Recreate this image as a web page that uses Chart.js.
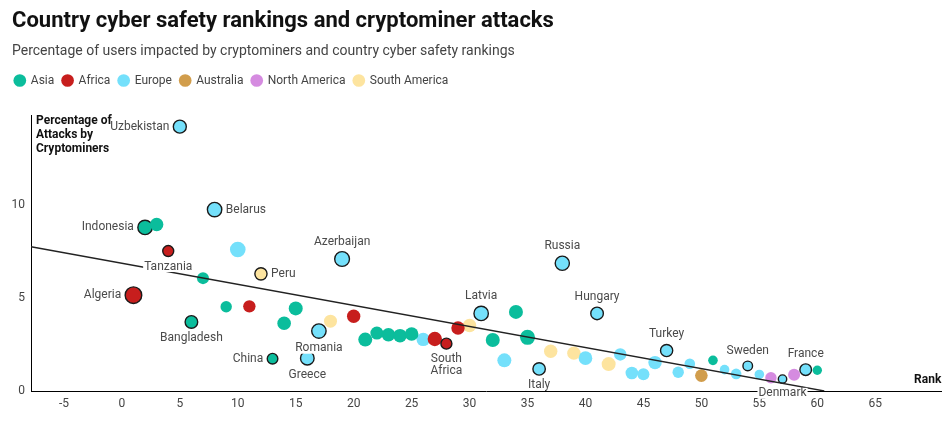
<!DOCTYPE html>
<html><head><meta charset="utf-8">
<script src="https://cdn.jsdelivr.net/npm/chart.js@4"></script>
<style>html,body{margin:0;padding:0;background:#fff}#wrap{width:951px;height:422px;position:relative}</style>
</head><body><div id="wrap"><canvas id="c" width="951" height="422"></canvas></div>
<script>
// ---- data ----
const ranks = [1,2,3,4,5,6,7,8,9,10,11,12,13,14,15,16,17,18,19,20,21,22,23,24,25,26,27,28,29,30,31,32,33,34,35,36,37,38,39,40,41,42,43,44,45,46,47,48,49,50,51,52,53,54,55,56,57,58,59,60];
const percentAttacked = [5.16,8.81,8.97,7.54,14.24,3.72,6.08,9.77,4.54,7.62,4.56,6.31,1.74,3.65,4.45,1.77,3.23,3.76,7.11,4.03,2.77,3.12,3.03,2.98,3.07,2.78,2.80,2.55,3.39,3.53,4.18,2.75,1.65,4.26,2.89,1.19,2.14,6.88,2.04,1.77,4.18,1.45,1.97,0.97,0.90,1.53,2.18,1.01,1.47,0.83,1.65,1.15,0.92,1.35,0.89,0.71,0.64,0.87,1.15,1.12];
const continentOf = ['Africa','Asia','Asia','Africa','Europe','Asia','Asia','Europe','Asia','Europe','Africa','South America','Asia','Asia','Asia','Europe','Europe','South America','Europe','Africa','Asia','Asia','Asia','Asia','Asia','Europe','Africa','Africa','Africa','South America','Europe','Asia','Europe','Asia','Asia','Europe','South America','Europe','South America','Europe','Europe','South America','Europe','Europe','Europe','Europe','Europe','Europe','Europe','Australia','Asia','Europe','Europe','Europe','Europe','North America','Europe','North America','Europe','Asia'];
const countryLabels = ['Algeria','Indonesia','','Tanzania','Uzbekistan','Bangladesh','','Belarus','','','','Peru','China','','','Greece','Romania','','Azerbaijan','','','','','','','','','South Africa','','','Latvia','','','','','Italy','','Russia','','','Hungary','','','','','','Turkey','','','','','','','Sweden','','','Denmark','','France',''];
const bubbleSize = [8.3,7.2,6.7,5.5,6.5,6.3,6,7.2,5.7,7.8,6.2,6.1,5.3,6.8,7,6.8,7.2,6.5,7.4,6.7,7,6.5,6.8,6.8,6.8,6.7,7.2,5.5,6.7,6.7,7.2,7,7,7,7.5,6.2,6.7,7.1,6.7,6.8,6.3,7,6.2,6.3,6,6.7,6.1,5.7,5.3,6.3,4.8,4.8,5.3,4.8,4.8,5.7,4.2,6,5.8,4.7];
const continents = ['Asia','Africa','Europe','Australia','North America','South America'];
const xTicks = [-5,0,5,10,15,20,25,30,35,40,45,50,55,60,65];
const yTicks = [0,5,10];
const trendRank = [-7.84, 60.6];
const trendPercent = [7.77, 0];

// ---- styles ----
const continentColors = {'Asia':'#0bbd9c','Africa':'#c71e1d','Europe':'#74e0fb','Australia':'#d19d4c','North America':'#d58be0','South America':'#fde49f'};
const labelPlacement = {Uzbekistan:'left',Belarus:'right',Indonesia:'left',Algeria:'left',Tanzania:'bottom',Peru:'right',Bangladesh:'bottom',China:'left',Greece:'bottom',Romania:'bottom',Azerbaijan:'top',Russia:'top',Latvia:'top',Hungary:'top','South Africa':'bottom',Italy:'bottom',Turkey:'top',Sweden:'top',Denmark:'bottom',France:'top'};
const labelLines = {'South Africa':['South','Africa']};

Chart.defaults.font.family = 'Roboto';

const datasets = continents.map(c => ({
  type: 'bubble',
  label: c,
  order: 1,
  backgroundColor: continentColors[c],
  borderColor: '#1a1a1a',
  borderWidth: ctx => (ctx.raw && ctx.raw.name) ? 1.4 : 0,
  data: ranks.map((r, i) => ({x: r, y: percentAttacked[i], r: bubbleSize[i], name: countryLabels[i], cont: continentOf[i]}))
          .filter(p => p.cont === c)
}));
datasets.push({
  type: 'line',
  label: 'trend',
  order: 0,
  data: trendRank.map((r, i) => ({x: r, y: trendPercent[i]})),
  borderColor: '#222',
  borderWidth: 1.3,
  pointRadius: 0,
  fill: false
});

const pointLabels = {
  id: 'pointLabels',
  afterDatasetsDraw(chart) {
    const ctx = chart.ctx, xs = chart.scales.x, ys = chart.scales.y;
    ctx.save();
    ctx.font = '12px Roboto';
    ctx.textBaseline = 'middle';
    ranks.forEach((rk, i) => {
      const name = countryLabels[i];
      if (!name) return;
      const px = xs.getPixelForValue(rk), py = ys.getPixelForValue(percentAttacked[i]);
      const r = bubbleSize[i];
      const pos = labelPlacement[name];
      const lines = labelLines[name] || [name];
      const lh = 12.3;
      let tx, ty, align;
      if (pos === 'left') { tx = px - r - 4; ty = py; align = 'right'; }
      else if (pos === 'right') { tx = px + r + 4; ty = py; align = 'left'; }
      else if (pos === 'top') { tx = px; ty = py - r - 10; align = 'center'; }
      else { tx = px; ty = py + r + 10; align = 'center'; }
      ctx.textAlign = align;
      lines.forEach((ln, k) => {
        const w = ctx.measureText(ln).width;
        const y = ty + k * lh;
        const left = align === 'right' ? tx - w : align === 'left' ? tx : tx - w / 2;
        ctx.fillStyle = '#fff';
        ctx.fillRect(left - 1, y - 5.5, w + 2, 11);
        ctx.fillStyle = '#4a4a4a';
        ctx.fillText(ln, tx, y);
      });
    });
    ctx.restore();
  },
  afterDraw(chart) {
    const ctx = chart.ctx, a = chart.chartArea;
    ctx.save();
    ctx.font = 'bold 12px Roboto';
    ctx.fillStyle = '#111';
    ctx.textBaseline = 'middle';
    ctx.textAlign = 'left';
    ['Percentage of', 'Attacks by', 'Cryptominers'].forEach((t, k) => ctx.fillText(t, a.left + 5, a.top + 5.5 + k * 14.2));
    ctx.textAlign = 'right';
    ctx.fillText('Rank', a.right, a.bottom - 11.5);
    ctx.restore();
  }
};

const legendSpacing = {
  id: 'legendSpacing',
  beforeInit(chart) {
    const lg = chart.legend;
    const origFit = lg.fit;
    lg.fit = function () { origFit.call(this); this.height += 19; };
  },
  afterLayout(chart) {
    chart.legend.left = 6.5;
  }
};

new Chart(document.getElementById('c'), {
  data: { datasets },
  options: {
    responsive: false,
    animation: false,
    events: [],
    layout: { padding: { left: 12, right: 9, top: 0, bottom: 0 } },
    plugins: {
      title: { display: true, text: 'Country cyber safety rankings and cryptominer attacks', align: 'start', color: '#111', font: { size: 22, weight: 'bold' }, padding: { top: 8, bottom: 0 } },
      subtitle: { display: true, text: 'Percentage of users impacted by cryptominers and country cyber safety rankings', align: 'start', color: '#444', font: { size: 14 }, padding: { top: 9, bottom: 6 } },
      legend: {
        display: true, position: 'top', align: 'start',
        labels: { usePointStyle: true, pointStyle: 'circle', boxWidth: 10, boxHeight: 9, padding: 8.3, color: '#444', font: { size: 12 },
          filter: item => { item.lineWidth = 0; item.strokeStyle = 'rgba(0,0,0,0)'; return item.text !== 'trend'; } }
      },
      tooltip: { enabled: false }
    },
    scales: {
      x: {
        type: 'linear', min: -7.84, max: 70.7,
        grid: { display: false, drawTicks: false },
        border: { display: true, color: '#000', width: 1 },
        ticks: { color: '#444', font: { size: 12 }, padding: 6 },
        afterBuildTicks: s => { s.ticks = xTicks.map(v => ({ value: v })); },
        afterFit: s => { s.height = 31; }
      },
      y: {
        type: 'linear', min: 0, max: 14.84,
        grid: { display: false, drawTicks: false },
        border: { display: true, color: '#000', width: 1 },
        ticks: { color: '#444', font: { size: 12 }, padding: 6 },
        afterBuildTicks: s => { s.ticks = yTicks.map(v => ({ value: v })); },
        afterFit: s => { s.width = 19; }
      }
    }
  },
  plugins: [pointLabels, legendSpacing]
});
</script></body></html>
